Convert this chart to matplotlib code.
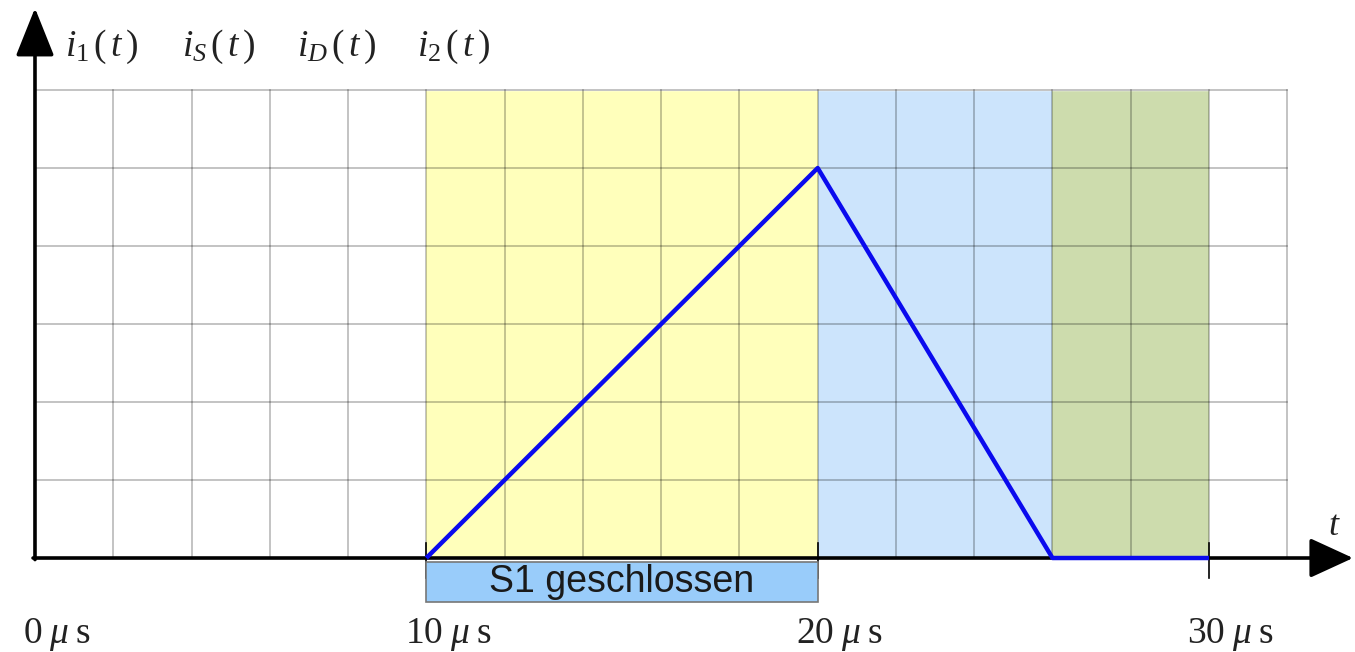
import matplotlib
matplotlib.use("Agg")
import matplotlib.pyplot as plt
from matplotlib.patches import Rectangle

# current waveform (time in microseconds, current in grid units)
t_us = [10, 20, 26, 30]
i_vals = [0, 5, 0, 0]

# shaded phases
phase_start = [10, 20, 26]
phase_end = [20, 26, 30]
phase_colors = ["#ffffbb", "#cce4fc", "#cddcad"]

# grid
grid_x = list(range(0, 33, 2))
grid_y = list(range(0, 7))

tick_times = [0, 10, 20, 30]
curve_names = [r"$i_{1}\,(\,t\,)$", r"$i_{S}\,(\,t\,)$", r"$i_{D}\,(\,t\,)$", r"$i_{2}\,(\,t\,)$"]
switch_label = "S1 geschlossen"

plt.rcParams["mathtext.fontset"] = "custom"
plt.rcParams["mathtext.rm"] = "Liberation Serif"
plt.rcParams["mathtext.it"] = "Liberation Serif:italic"

fig = plt.figure(figsize=(13.55, 6.52), dpi=100)
ax = fig.add_axes([0, 0, 1, 1])
ax.set_xlim(-0.894, 33.73)
ax.set_ylim(-1.205, 7.154)
ax.axis("off")

# background phases
for a, b, c in zip(phase_start, phase_end, phase_colors):
    ax.axvspan(a, b, ymin=0, ymax=1, color=c, lw=0)
# clip spans to grid height
ax.fill_between([-1, 34], 6, 7.2, color="white", zorder=1)
ax.fill_between([-1, 34], -1.3, 0, color="white", zorder=1)

# grid lines
for gx in grid_x:
    ax.plot([gx, gx], [0, 6], color="black", alpha=0.3, lw=1.1, zorder=2)
for gy in grid_y:
    ax.plot([0, 32], [gy, gy], color="black", alpha=0.3, lw=1.1, zorder=2)

# axes with arrows
ax.annotate("", xy=(33.68, 0), xytext=(-0.05, 0),
            arrowprops=dict(arrowstyle="-|>,head_length=1.35,head_width=0.62",
                            lw=2.6, color="black", mutation_scale=20,
                            shrinkA=0, shrinkB=0), zorder=5)
ax.annotate("", xy=(0, 7.05), xytext=(0, -0.02),
            arrowprops=dict(arrowstyle="-|>,head_length=1.5,head_width=0.6",
                            lw=2.6, color="black", mutation_scale=20,
                            shrinkA=0, shrinkB=0), zorder=5)

# ticks and labels
for tt in tick_times[1:]:
    ax.plot([tt, tt], [0.19, -0.26], color="black", lw=1.2, zorder=4)
for tt in tick_times:
    ax.text(tt + 0.55, -0.98, r"$%d\;\mu\;\mathrm{s}$" % tt, fontsize=27,
            ha="center", va="center", color="#222222")

# switch box
ax.add_patch(Rectangle((10, -0.56), 10, 0.51, facecolor="#99ccfa",
                       edgecolor="#777777", lw=1.2, zorder=6))
ax.text(15, -0.31, switch_label, fontsize=27, family="Liberation Sans",
        ha="center", va="center", color="#1a1a1a", zorder=7)

# current waveform
ax.plot(t_us, i_vals, color="#0a0aee", lw=3.2, zorder=8, solid_capstyle="butt")

# curve names and time label
for k, name in enumerate(curve_names):
    ax.text(1.7 + 3.0 * k, 6.55, name, fontsize=27, ha="center", va="center",
            color="#222222")
ax.text(33.2, 0.42, r"$t$", fontsize=26, ha="center", va="center", color="#222222")

fig.savefig("out.png", dpi=100)
